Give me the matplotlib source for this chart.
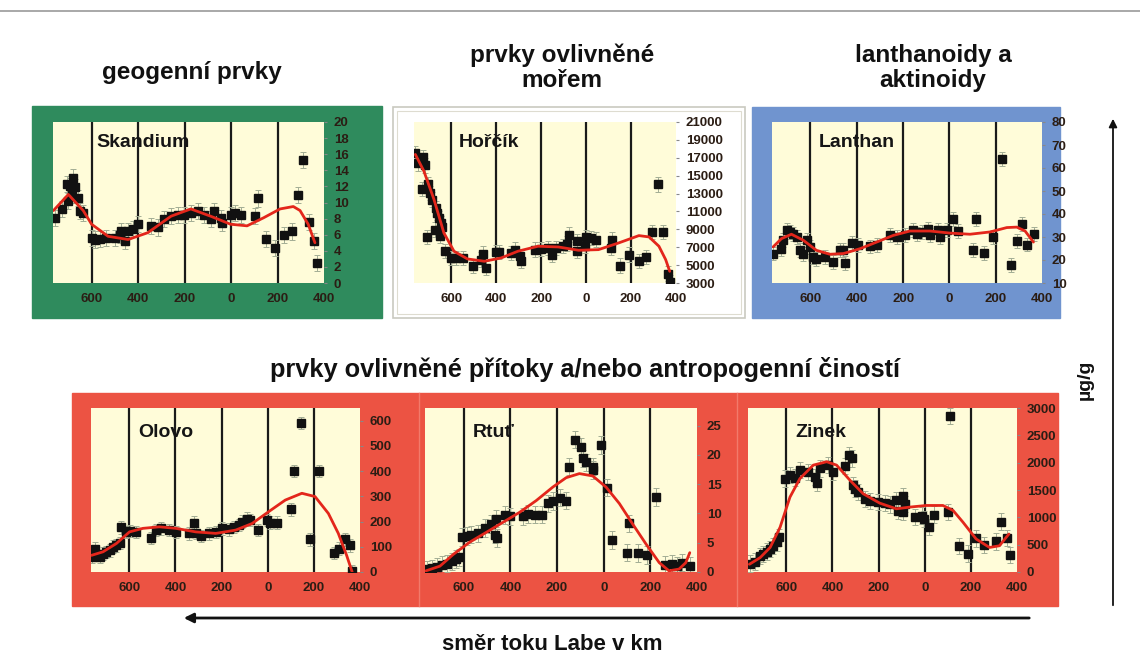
import matplotlib
matplotlib.use("Agg")
import matplotlib.pyplot as plt
from matplotlib.patches import Rectangle, FancyArrowPatch

W, H = 1140, 670

# ---- data (river km, ug/g) ----
# upstream km are negative on the axis, labels show absolute values
sc_km = [-759, -728, -707, -700, -693, -685, -678, -671, -657, -650, -636,
         -600, -586, -564, -536, -500, -479, -472, -458, -443, -422, -401,
         -344, -315, -287, -258, -230, -201, -173, -144, -116, -88, -73, -45,
         -38, -2, 19, 41, 105, 116, 152, 190, 226, 261, 290, 311, 337, 357, 368]
sc_val = [8.1, 9.2, 12.3, 10.2, 12.1, 11.0, 13.1, 11.9, 10.6, 9.0, 8.75,
          5.6, 5.4, 5.5, 5.6, 5.6, 6.0, 6.5, 5.2, 6.5, 6.7, 7.3,
          7.1, 6.9, 8.0, 8.3, 8.5, 8.5, 8.75, 9.0, 8.5, 7.9, 9.0, 8.1,
          7.5, 8.5, 8.75, 8.5, 8.3, 10.5, 5.5, 4.4, 6.0, 6.4, 10.9, 15.3, 7.6, 5.2, 2.5]
sc_fit_km = [-764, -700, -636, -600, -529, -443, -358, -258, -173, -88, -2,
             69, 140, 211, 268, 297, 332, 361]
sc_fit = [9.0, 11.0, 9.0, 7.3, 5.8, 5.4, 6.25, 8.3, 9.2, 8.3, 7.3,
          7.1, 8.1, 9.2, 9.5, 9.0, 7.3, 5.0]

mg_km = [-760, -749, -725, -718, -730, -704, -695, -707, -685, -670, -662, -674,
         -655, -647, -640, -652, -630, -603, -580, -550, -505, -468, -460, -446,
         -401, -386, -333, -318, -296, -289, -229, -199, -169, -154, -132, -102,
         -87, -76, -42, -40, -4, 0, 22, 43, 109, 115, 152, 193, 235, 265, 295,
         320, 342, 366, 372]
mg_val = [17490, 16370, 17115, 16145, 13530, 14015, 13080, 8150, 12335, 11400,
          10840, 8975, 10280, 9720, 9275, 8230, 6550, 5800, 5800, 5800, 4870,
          5615, 6285, 4680, 6435, 6435, 6360, 6730, 5990, 5430, 6730, 6810, 6920,
          6175, 6920, 7110, 7400, 8415, 7670, 6550, 7110, 8150, 8040, 7855, 6920,
          7855, 4940, 6175, 5430, 5910, 8675, 14015, 8675, 4045, 3075]
mg_fit_km = [-760, -722, -677, -633, -588, -528, -453, -378, -304, -214, -124,
             -34, 55, 145, 235, 280, 324, 354, 372]
mg_fit = [17375, 15510, 12335, 8600, 6550, 5690, 5430, 5800, 6550, 7110, 7030,
          6660, 6730, 7480, 8300, 8150, 7110, 5615, 4305]

la_km = [-761, -725, -718, -703, -689, -675, -660, -646, -631, -617, -602, -588,
         -574, -538, -504, -473, -451, -458, -422, -393, -343, -314, -257, -228,
         -192, -159, -141, -120, -91, -84, -48, -40, -12, 17, 39, 104, 115, 150,
         187, 226, 265, 291, 313, 334, 366]
la_val = [22.8, 24.9, 28.6, 32.9, 32.2, 31.4, 30.0, 24.2, 22.5, 28.8, 25.7, 21.3,
          20.6, 21.3, 19.1, 24.2, 18.7, 24.2, 27.4, 26.4, 25.9, 26.4, 30.7, 30.0,
          30.7, 32.9, 31.4, 32.2, 33.6, 30.7, 32.9, 30.0, 32.9, 37.7, 32.6, 24.5,
          38.0, 23.0, 30.0, 64.0, 18.0, 28.3, 35.8, 26.7, 31.2]
la_fit_km = [-761, -725, -682, -631, -574, -516, -458, -386, -314, -242, -170,
             -84, 3, 89, 176, 248, 291, 327, 363]
la_fit = [25.7, 29.3, 31.2, 28.6, 24.2, 22.5, 22.8, 24.9, 27.8, 30.7, 32.6,
          32.6, 31.7, 31.2, 32.2, 34.1, 34.3, 32.6, 27.8]

pb_km = [-760, -750, -728, -714, -699, -685, -671, -656, -642, -635, -613, -599,
         -570, -506, -484, -462, -427, -398, -340, -319, -312, -290, -254, -225,
         -197, -168, -147, -125, -111, -89, -75, -43, -3, 11, 40, 102, 113, 145,
         184, 223, 289, 309, 335, 356, 366]
pb_val = [60, 93, 60, 73, 80, 86, 100, 106, 115, 177, 159, 163, 159, 135, 166,
          173, 166, 159, 153, 195, 155, 142, 153, 159, 173, 169, 179, 186, 199,
          212, 206, 166, 206, 195, 195, 248, 401, 591, 129, 401, 76, 93, 129, 106, 3]
pb_fit_km = [-764, -714, -656, -599, -541, -470, -398, -312, -225, -139, -68,
             4, 76, 148, 205, 263, 306, 342, 366]
pb_fit = [66, 80, 113, 159, 173, 179, 173, 159, 153, 166, 192, 239, 285, 312,
          299, 232, 153, 66, 0]

hg_km = [-759, -737, -716, -695, -673, -652, -633, -619, -609, -588, -567, -538,
         -510, -481, -460, -467, -457, -424, -403, -346, -325, -296, -263, -239,
         -218, -189, -161, -147, -125, -97, -90, -75, -47, -44, -11, 13, 36, 107,
         100, 149, 184, 223, 263, 292, 316, 337, 369]
hg_val = [0.46, 0.63, 0.86, 1.2, 1.44, 1.8, 2.2, 2.5, 6.0, 6.1, 6.4, 6.6, 7.5, 8.2,
          9.1, 6.4, 5.8, 9.7, 9.5, 9.5, 9.9, 9.8, 9.8, 11.7, 12.1, 12.7, 12.2,
          18.0, 22.6, 21.4, 19.4, 18.7, 18.0, 17.4, 21.7, 14.4, 5.5, 8.3, 3.3, 3.2,
          2.9, 12.8, 1.2, 1.4, 1.0, 1.6, 1.0]
hg_fit_km = [-762, -702, -645, -574, -502, -431, -360, -289, -218, -161, -104,
             -47, 10, 67, 124, 181, 238, 280, 323, 352, 369]
hg_fit = [0.2, 1.0, 3.0, 5.1, 6.8, 8.5, 10.2, 12.2, 14.5, 16.1, 16.8, 16.4,
          14.5, 11.7, 8.2, 4.8, 1.6, 0.2, 0.5, 1.6, 3.3]

zn_km = [-757, -735, -713, -699, -685, -670, -656, -642, -630, -605, -584, -562,
         -541, -504, -476, -466, -454, -418, -396, -346, -327, -317, -313, -303,
         -288, -259, -238, -202, -173, -151, -123, -115, -94, -86, -94, -43, -10,
         -4, 19, 39, 101, 108, 148, 187, 223, 259, 310, 332, 356, 370]
zn_val = [154, 191, 295, 326, 375, 418, 480, 541, 633, 1709, 1771, 1728, 1863,
          1832, 1740, 1629, 1894, 1955, 1832, 1937, 2140, 2078, 1586, 1525, 1463,
          1340, 1297, 1279, 1260, 1236, 1309, 1125, 1383, 1248, 1094, 1002, 1033,
          971, 818, 1051, 1094, 2859, 480, 338, 615, 498, 559, 922, 621, 314]
zn_fit_km = [-760, -713, -670, -627, -584, -541, -483, -425, -382, -324, -267,
             -195, -123, -65, 7, 79, 123, 166, 223, 281, 324, 353, 365]
zn_fit = [141, 264, 449, 818, 1371, 1709, 1955, 2017, 1955, 1678, 1432, 1260,
          1156, 1187, 1217, 1217, 1125, 910, 603, 449, 480, 633, 695]

# typical error bar half-width per element
sc_err, mg_err, la_err = 1.0, 800, 3.0
pb_err, hg_err, zn_err = 25, 1.5, 150

x_ticks = [-600, -400, -200, 0, 200, 400]
x_labels = ["600", "400", "200", "0", "200", "400"]
grid_km = [-600, -400, -200, 0, 200]

CREAM = "#fffcd9"
FIT = "#e3261b"
TICKC = "#2b1d14"


def px_rect(x0, y0, x1, y1):
    return [x0 / W, 1 - y1 / H, (x1 - x0) / W, (y1 - y0) / H]


def panel(fig, box, name, km, val, err, fit_km, fit, ylim, yticks, name_pos):
    ax = fig.add_axes(px_rect(*box))
    ax.set_facecolor(CREAM)
    for s in ax.spines.values():
        s.set_visible(False)
    for g in grid_km:
        ax.axvline(g, color="#1a1a1a", lw=1.6, zorder=1)
    ax.errorbar(km, val, yerr=err, fmt="none", ecolor="#a3ad94", elinewidth=0.7,
                capsize=2, capthick=0.7, zorder=2)
    ax.plot(km, val, "s", color="#111111", ms=5.2, zorder=3)
    ax.plot(fit_km, fit, color=FIT, lw=2, zorder=4, solid_capstyle="round")
    ax.set_xlim(-766, 400)
    ax.set_ylim(*ylim)
    ax.set_xticks(x_ticks)
    ax.set_xticklabels(x_labels)
    ax.set_yticks(yticks)
    ax.yaxis.tick_right()
    ax.tick_params(axis="x", length=0, pad=7, labelsize=9.5, labelcolor=TICKC)
    ax.tick_params(axis="y", length=2, pad=5, labelsize=9.5, labelcolor=TICKC,
                   color="#888888")
    for lab in ax.get_xticklabels() + ax.get_yticklabels():
        lab.set_fontweight("bold")
        lab.set_family("Liberation Sans")
    ax.text(name_pos[0], name_pos[1], name, transform=ax.transAxes,
            fontsize=14, fontweight="bold", family="Liberation Sans",
            color="#151515", va="center", ha="left", zorder=5)
    return ax


fig = plt.figure(figsize=(W / 100, H / 100), dpi=100)
fig.patch.set_facecolor("white")

bg = fig.add_axes([0, 0, 1, 1])
bg.set_xlim(0, W)
bg.set_ylim(H, 0)
bg.axis("off")

# scan frame line at the top
bg.plot([0, W], [11, 11], color="#9a9a9a", lw=1.2)

# coloured backgrounds
bg.add_patch(Rectangle((32, 106), 350, 212, color="#2f8b5d"))
bg.add_patch(Rectangle((393, 107), 352, 211, facecolor="white",
                       edgecolor="#c9c9c0", lw=1.2))
bg.add_patch(Rectangle((397, 111), 344, 203, facecolor="none",
                       edgecolor="#dedcd0", lw=0.8))
bg.add_patch(Rectangle((752, 107), 308, 211, color="#7094cf"))
bg.add_patch(Rectangle((72, 393), 986, 213, color="#ec5343"))
bg.plot([419, 419], [393, 606], color="#f27a6b", lw=1)
bg.plot([737, 737], [393, 606], color="#f27a6b", lw=1)

title_kw = dict(fontweight="bold", family="Liberation Sans",
                color="#111111", ha="center", va="center")
bg.text(192, 73, "geogenní prvky", fontsize=17.5, **title_kw)
bg.text(562, 68, "prvky ovlivněné\nmořem", fontsize=17.5, linespacing=1.1, **title_kw)
bg.text(933, 68, "lanthanoidy a\naktinoidy", fontsize=17.5, linespacing=1.1, **title_kw)
bg.text(585, 370, "prvky ovlivněné přítoky a/nebo antropogenní čiností",
        fontsize=18.3, **title_kw)
bg.text(552, 645, "směr toku Labe v km", fontsize=16, **title_kw)
bg.text(1085, 380, "µg/g", rotation=90, fontsize=14, **title_kw)

# direction arrows
bg.add_patch(FancyArrowPatch((1032, 618), (181, 618), arrowstyle="-|>",
                             mutation_scale=14, lw=2, color="#111111"))
bg.add_patch(FancyArrowPatch((1113, 608), (1113, 116), arrowstyle="-|>",
                             mutation_scale=12, lw=1.3, color="#111111"))

panel(fig, (53, 122, 324, 283), "Skandium", sc_km, sc_val, sc_err,
      sc_fit_km, sc_fit, (0, 20), list(range(0, 21, 2)), (0.16, 0.87))
panel(fig, (414, 122, 676, 283), "Hořčík", mg_km, mg_val, mg_err,
      mg_fit_km, mg_fit, (3000, 21000), list(range(3000, 21001, 2000)), (0.17, 0.87))
panel(fig, (772, 122, 1042, 283), "Lanthan", la_km, la_val, la_err,
      la_fit_km, la_fit, (10, 80), list(range(10, 81, 10)), (0.175, 0.87))
panel(fig, (91, 408, 360, 572), "Olovo", pb_km, pb_val, pb_err,
      pb_fit_km, pb_fit, (0, 650), list(range(0, 601, 100)), (0.175, 0.85))
panel(fig, (425, 408, 697, 572), "Rtuť", hg_km, hg_val, hg_err,
      hg_fit_km, hg_fit, (0, 28), list(range(0, 26, 5)), (0.175, 0.85))
panel(fig, (748, 408, 1017, 572), "Zinek", zn_km, zn_val, zn_err,
      zn_fit_km, zn_fit, (0, 3000), list(range(0, 3001, 500)), (0.175, 0.85))

fig.savefig("out.png", dpi=100)
